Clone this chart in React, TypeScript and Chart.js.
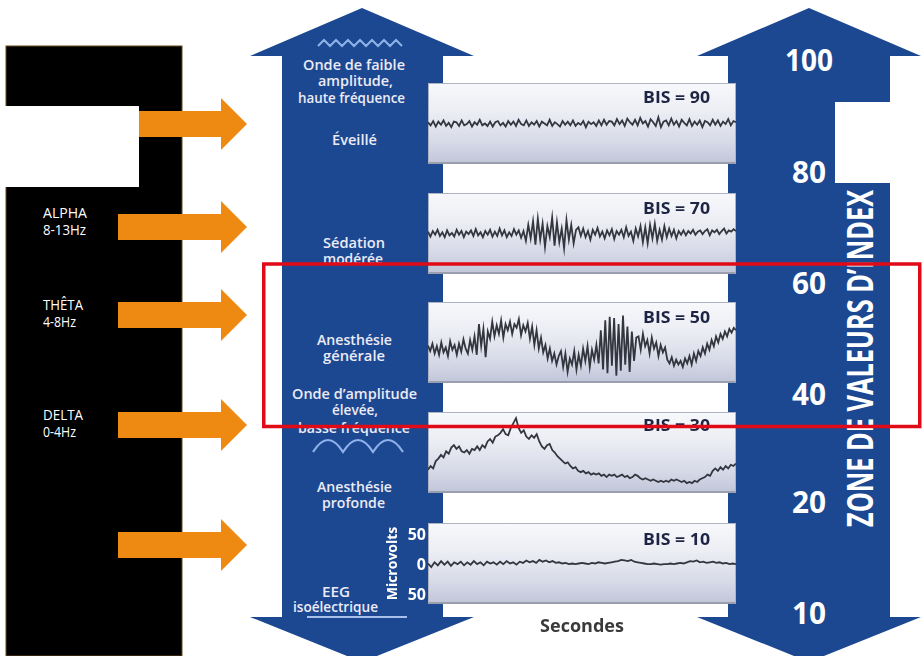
import React, { useEffect, useRef } from "react";
import { Chart, registerables } from "chart.js";

Chart.register(...registerables);
Chart.defaults.font.family = "'Open Sans', 'DejaVu Sans', sans-serif";

// ---------- DATA ----------
const bisValues = [90, 70, 50, 30, 10];

const eeg90 = [2, -3, 4, -5, 3, -2, 5, -4, 1, -6, 3, 2, -4, 5, -3, -1, 4, -5, 2, -2, 6, -3, 0, -4, 3, -5, 2, 4, -3, 1, -5, 4, -2, 3, -4, 6, -1, -3, 5, -4, 2, -2, 4, -5, 3, 0, -3, 6, -4, 2, -1, -5, 4, -2, 3, -3, 5, -4, 1, -2, 4, -6, 3, -1, 2, -4, 5, -3, 6, -2, 4, 3, -3, 7, -1, 5, -4, 8, 2, -2, 6, -3, 9, 0, 4, -5, 7, 2, -4, 10, -6, 3, 5, -3, 8, -2, 4, -5, 6, 1, -3, 7, -4, 3, -2, 5, -6, 4, 2, -3, 6, -2, 5, -4, 3, -1, 7, -3, 4, 2];

const eeg70 = [3, -5, 4, -2, 6, -4, 2, -6, 5, -3, 1, -5, 6, -2, 4, -6, 3, -1, 5, -4, 7, -3, 2, -6, 4, -2, 6, -5, 3, -4, 8, -3, 5, -6, 2, -4, 7, -2, 5, -7, 4,
  -12, 14, -8, 20, -18, 24, -10, 16, -22, 12, -6, 26, -20, 18, -14, 8, -24, 22, -10, 14, -16, 6,
  10, -4, 8, -6, 4, -10, 6, -2, 9, -5, 3, -8, 5, -3, 7, -9, 4, -2, 6, -6, 10, -4, 3, -12, 8, -5, 12, -14,
  10, -16, 14, -8, 16, -12, 6, -10, 12, -6, 8, -4, 6, -8, 4,
  -2, 5, -3, 4, 0, 6, -2, 3, 5, -1, 4, 7, -3, 5, 2, 6, -1, 4, 8, 0, 5, 3, 7, 4];

const eeg50 = [-5, -14, -2, -18, -6, -20, 0, -16, -8, -22, 2, -12, -4, -20, -2, -15, 5, -10,
  -18, 4, -12, 10, -20, 30, -6, 22, -24, 18, 6, 34, 10, 28, 14, 36, 8, 30,
  20, 34, 14, 30, 24, 38, 12, 28, 18, 32, 6, 26, -4, 20, -10, 8,
  -16, -4, -26, -10, -30, -18, -36, -22, -14,
  -40, -18, -48, -26, -36, -14, -44, -20, -38, -10, -30, -6, -40, -12, -28, -4,
  -34, 20, -44, 36, -50, 42, -38, 40, -54, 30, -46, 44, -36, 26, -48, 18, -30, 8,
  10, -12, 14, -6, 4, -18, 8, -10, 0, -22, -4, -16, -8, -28,
  -34, -24, -38, -28, -36, -30, -40, -26, -34, -22, -36, -18, -30, -14,
  -22, -8, -18, -2, -12, 4, -6, 10, 0, 14, 6, 18, 10, 22, 16, 24, 20];

const eeg30 = [-28, -22, -26, -14, -10, -4, -8, 2, -2, 8, 12, 6, 10, 2, 0, 4, -2, 6, 4, 10, 4, 12, 8, 18, 22, 16, 26, 28, 32, 38, 30, 28, 40, 48, 56, 40, 32, 36, 26, 22, 28, 24, 30, 18, 10, 6, 12, 14, 4, 0, -6, -10, -14, -18, -16, -22, -26, -24, -30, -32, -30, -34, -32, -36, -34, -36, -34, -38, -36, -40, -36, -38, -36, -40, -38, -36, -40, -38, -42, -40, -36, -38, -42, -44, -42, -44, -46, -44, -46, -48, -46, -48, -46, -48, -44, -46, -44, -46, -48, -46, -50, -48, -50, -46, -48, -44, -42, -40, -36, -38, -30, -26, -30, -24, -28, -22, -26, -20, -22, -18];

const eeg10 = [3, -3, 5, 0, 7, 1, 6, -1, 5, 2, 6, 0, 5, 1, 7, 2, 5, 0, 6, 3, 5, 1, 6, 2, 7, 3, 5, 1, 6, 4, 8, 5, 7, 4, 9, 6, 8, 5, 7, 4, 5, 3, 4, 2, 3, 2, 3, 4, 3, 2, 4, 3, 5, 4, 3, 4, 5, 6, 7, 9, 8, 7, 9, 6, 5, 4, 3, 2, 2, 3, 2, 1, 2, 2, 3, 2, 3, 4, 3, 5, 7, 6, 8, 5, 6, 4, 5, 6, 4, 5, 3, 4, 2, 3, 2];

const eegSeries = [eeg90, eeg70, eeg50, eeg30, eeg10];
const microvoltTicks = [50, 0, -50];
const indexTicks = ["100", "80", "60", "40", "20", "10"];
const bandNames = ["ALPHA", "THÊTA", "DELTA"];
const bandRanges = ["8-13Hz", "4-8Hz", "0-4Hz"];
const xTitle = "Secondes";
const yTitle = "Microvolts";
const sideTitle = "ZONE DE VALEURS D’INDEX";

// ---------- LAYOUT ----------
const BLUE = "#1c4891";
const ORANGE = "#ee8a12";
const PANEL_LEFT = 428;
const PANEL_W = 308;
const PANEL_H = 81;
const PANEL_TOPS = [83, 193, 302, 412, 523];
const BIS_BASE = [103, 214, 323, 431, 545];
const INDEX_BASE = [71, 183, 294, 405, 513, 624];
const BAND_BASE = [218, 310, 420];

// text, x(left), baseline, width
const leftLines: [string, number, number, number][] = [
  ["Onde de faible", 303, 70, 102],
  ["amplitude,", 318, 86, 75],
  ["haute fréquence", 298, 103, 107],
  ["Éveillé", 332, 145, 45],
  ["Sédation", 323, 248, 62],
  ["Anesthésie", 317, 345, 75],
  ["générale", 323, 361, 62],
  ["Onde d’amplitude", 292, 399, 125],
  ["élevée,", 332, 415, 46],
  ["basse fréquence", 298, 433, 112],
  ["Anesthésie", 317, 492, 75],
  ["profonde", 322, 508, 63],
  ["EEG", 322, 597, 28],
  ["isoélectrique", 293, 612, 85],
];

function EegChart({ data, withAxes, left, top, width, height }: any) {
  const ref = useRef<HTMLCanvasElement>(null);
  useEffect(() => {
    const labels = data.map((_: number, i: number) => i);
    const scales: any = withAxes
      ? {
          x: {
            display: true,
            offset: false,
            grid: { display: false, drawTicks: false },
            border: { display: false },
            ticks: { display: false },
            title: {
              display: true,
              text: xTitle,
              color: "#3a3a3a",
              font: { size: 18, weight: "bold" },
              padding: { top: 0, bottom: 3 },
            },
            afterFit(s: any) {
              s.height = 37;
              s.paddingLeft = 0;
              s.paddingRight = 0;
            },
          },
          y: {
            display: true,
            min: -64,
            max: 70,
            afterBuildTicks(s: any) {
              s.ticks = microvoltTicks.map((v) => ({ value: v }));
            },
            grid: { display: false, drawTicks: false },
            border: { display: false },
            ticks: {
              color: "#ffffff",
              font: { size: 16, weight: "bold" },
              padding: 2,
              callback: (v: any) => String(Math.abs(Number(v))),
            },
            title: {
              display: true,
              text: yTitle,
              color: "#ffffff",
              font: { size: 14, weight: "bold" },
              padding: { top: 5, bottom: 0 },
            },
            afterFit(s: any) {
              s.width = 48;
              s.paddingTop = 0;
              s.paddingBottom = 0;
            },
          },
        }
      : {
          x: { display: false, offset: false },
          y: { display: false, min: -66, max: 66 },
        };
    const chart = new Chart(ref.current!, {
      type: "line",
      data: {
        labels,
        datasets: [
          {
            data,
            borderColor: "#34363f",
            borderWidth: 1.8,
            pointRadius: 0,
            tension: 0,
            fill: false,
          },
        ],
      },
      options: {
        animation: false,
        responsive: false,
        events: [],
        layout: { padding: 0 },
        plugins: {
          legend: { display: false },
          tooltip: { enabled: false },
          title: { display: false },
        },
        scales,
      },
    });
    return () => chart.destroy();
  }, [data, withAxes]);
  return (
    <canvas
      ref={ref}
      width={width}
      height={height}
      style={{ position: "absolute", left, top, width, height }}
    />
  );
}

function arrowPts(cx: number, l: number, r: number, top: number, bot: number, wing: number) {
  return [
    [l, 56], [cx - wing, 56], [cx, top], [cx + wing, 56], [r, 56],
    [r, 617], [cx + wing, 617], [cx, bot], [cx - wing, 617], [l, 617],
  ]
    .map((p) => p.join(","))
    .join(" ");
}

function orangeArrow(x0: number, cy: number, key: number) {
  const pts = [
    [x0, cy - 13], [221, cy - 13], [221, cy - 26], [247, cy], [221, cy + 26], [221, cy + 13], [x0, cy + 13],
  ]
    .map((p) => p.join(","))
    .join(" ");
  return <polygon key={key} points={pts} fill={ORANGE} />;
}

export default function App() {
  const font = "'Open Sans', 'DejaVu Sans', sans-serif";
  return (
    <div
      style={{
        position: "absolute",
        left: 0,
        top: 0,
        width: 922,
        height: 656,
        overflow: "hidden",
        background: "#ffffff",
      }}
    >
      <svg width={922} height={656} style={{ position: "absolute", left: 0, top: 0 }}>
        {/* black panel */}
        <rect x={6} y={46} width={176} height={610} fill="#000" stroke="#6b4a1a" strokeWidth={1} />
        <rect x={0} y={106} width={139} height={81} fill="#fff" />
        {/* orange arrows */}
        {orangeArrow(139, 124, 0)}
        {orangeArrow(118, 227, 1)}
        {orangeArrow(118, 315, 2)}
        {orangeArrow(118, 425, 3)}
        {orangeArrow(118, 545, 4)}
        {/* band labels */}
        {bandNames.map((n, i) => (
          <g key={n} fill="#fff" fontFamily={font} fontSize={14}>
            <text x={43} y={BAND_BASE[i]} textLength={n === "ALPHA" ? 44 : 40} lengthAdjust="spacingAndGlyphs">
              {n}
            </text>
            <text x={43} y={BAND_BASE[i] + 17} textLength={i === 0 ? 43 : 33} lengthAdjust="spacingAndGlyphs">
              {bandRanges[i]}
            </text>
          </g>
        ))}
        {/* blue arrows */}
        <polygon points={arrowPts(362, 282, 443, 8, 662, 112)} fill={BLUE} />
        <polygon points={arrowPts(809, 728, 890, 8, 662, 112)} fill={BLUE} />
        <rect x={835} y={102} width={90} height={81} fill="#fff" />
        {/* wave icons */}
        <polyline
          points="318,46 324,40 330,46 336,40 342,46 348,40 354,46 360,40 366,46 372,40 378,46 384,40 390,46 396,40 402,46"
          fill="none"
          stroke="#8fb2ea"
          strokeWidth={2}
        />
        <path
          d="M313 452 Q328 428 343 452 Q358 428 373 452 Q388 428 403 452"
          fill="none"
          stroke="#8fb2ea"
          strokeWidth={2.2}
        />
        <line x1={307} y1={617} x2={407} y2={617} stroke="#a9c0ea" strokeWidth={2} />
        {/* left arrow texts */}
        <clipPath id="clipMod">
          <rect x={280} y={0} width={200} height={263} />
        </clipPath>
        <g fill="#ecebf6" fontFamily={font} fontSize={15} fontWeight={600}>
          {leftLines.map(([t, x, y, w], i) => (
            <text key={i} x={x} y={y} textLength={w} lengthAdjust="spacingAndGlyphs">
              {t}
            </text>
          ))}
          <text x={323} y={264} textLength={60} lengthAdjust="spacingAndGlyphs" clipPath="url(#clipMod)">
            modérée
          </text>
        </g>
        {/* index numbers */}
        <g fill="#fff" fontFamily={font} fontSize={30} fontWeight="bold">
          {indexTicks.map((t, i) => (
            <text
              key={t}
              x={t.length === 3 ? 785 : 792}
              y={INDEX_BASE[i]}
              textLength={t.length === 3 ? 48 : 34}
              lengthAdjust="spacingAndGlyphs"
            >
              {t}
            </text>
          ))}
        </g>
        <text
          transform="translate(873,527) rotate(-90)"
          fill="#fff"
          fontFamily={font}
          fontSize={35}
          fontWeight="bold"
          textLength={337}
          lengthAdjust="spacingAndGlyphs"
        >
          {sideTitle}
        </text>
      </svg>

      {PANEL_TOPS.map((t, i) => (
        <div
          key={"p" + i}
          style={{
            position: "absolute",
            left: PANEL_LEFT,
            top: t,
            width: PANEL_W,
            height: PANEL_H,
            boxSizing: "border-box",
            border: "1px solid #aeb2c2",
            borderBottom: "2px solid #9a9eae",
            background:
              "linear-gradient(180deg, #f7f8fb 0%, #eceef4 35%, #d6d9e7 75%, #c2c7da 100%)",
          }}
        />
      ))}

      {eegSeries.map((s, i) =>
        i < 4 ? (
          <EegChart key={"c" + i} data={s} withAxes={false} left={PANEL_LEFT} top={PANEL_TOPS[i]} width={PANEL_W} height={PANEL_H} />
        ) : (
          <EegChart key={"c" + i} data={s} withAxes={true} left={PANEL_LEFT - 48} top={PANEL_TOPS[i]} width={PANEL_W + 48} height={PANEL_H + 37} />
        )
      )}

      <svg width={922} height={656} style={{ position: "absolute", left: 0, top: 0, pointerEvents: "none" }}>
        <g fill="#1e2544" fontFamily={font} fontSize={16} fontWeight="bold">
          {bisValues.map((b, i) => (
            <text key={b} x={643} y={BIS_BASE[i]} textLength={67} lengthAdjust="spacingAndGlyphs">
              {"BIS = " + b}
            </text>
          ))}
        </g>
        <rect x={263.75} y={264} width={656} height={162.5} fill="none" stroke="#e10a17" strokeWidth={3.5} />
      </svg>
    </div>
  );
}
